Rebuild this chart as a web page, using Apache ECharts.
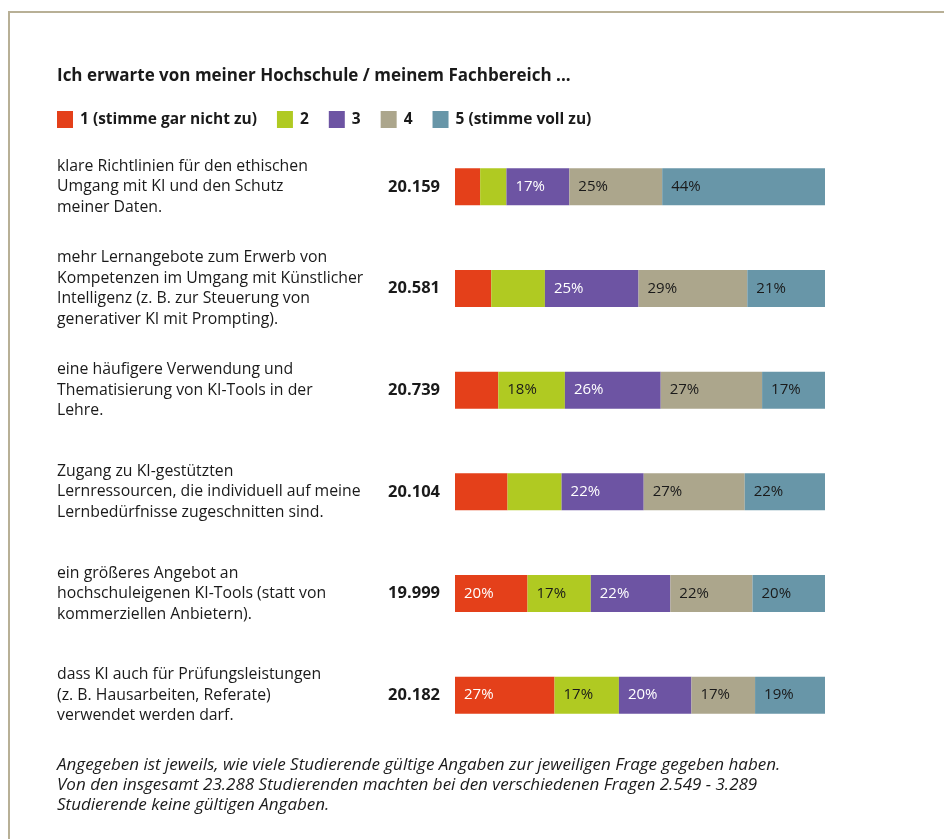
<!DOCTYPE html>
<html>
<head>
<meta charset="utf-8">
<script src="https://cdn.jsdelivr.net/npm/echarts@6/dist/echarts.min.js"></script>
<style>
  html, body { margin: 0; padding: 0; background: #fff; }
  #chart { width: 944px; height: 839px; }
</style>
</head>
<body>
<div id="chart"></div>
<script>
// Fragen (oben nach unten)
const questions = [
  'klare Richtlinien für den ethischen\nUmgang mit KI und den Schutz\nmeiner Daten.',
  'mehr Lernangebote zum Erwerb von\nKompetenzen im Umgang mit Künstlicher\nIntelligenz (z. B. zur Steuerung von\ngenerativer KI mit Prompting).',
  'eine häufigere Verwendung und\nThematisierung von KI-Tools in der\nLehre.',
  'Zugang zu KI-gestützten\nLernressourcen, die individuell auf meine\nLernbedürfnisse zugeschnitten sind.',
  'ein größeres Angebot an\nhochschuleigenen KI-Tools (statt von\nkommerziellen Anbietern).',
  'dass KI auch für Prüfungsleistungen\n(z. B. Hausarbeiten, Referate)\nverwendet werden darf.'
];
const nValues = ['20.159', '20.581', '20.739', '20.104', '19.999', '20.182'];

const seriesNames = ['1 (stimme gar nicht zu)', '2', '3', '4', '5 (stimme voll zu)'];
const colors = ['#e4401a', '#b0ca22', '#6d54a3', '#aca68c', '#6896a8'];
const labelColors = ['#ffffff', '#1a1a1a', '#ffffff', '#1a1a1a', '#1a1a1a'];

// Anteile in %
const stufe1 = [6.8, 9.8, 11.7, 14.2, 19.6, 26.9];
const stufe2 = [7.1, 14.5, 18.0, 14.6, 17.1, 17.4];
const stufe3 = [17.0, 25.3, 25.9, 22.2, 21.5, 19.6];
const stufe4 = [25.1, 29.4, 27.4, 27.3, 22.2, 17.2];
const stufe5 = [44.0, 21.0, 17.0, 21.7, 19.6, 18.9];
const allData = [stufe1, stufe2, stufe3, stufe4, stufe5];

const footnote = 'Angegeben ist jeweils, wie viele Studierende gültige Angaben zur jeweiligen Frage gegeben haben.\n' +
  'Von den insgesamt 23.288 Studierenden machten bei den verschiedenen Fragen 2.549 - 3.289\n' +
  'Studierende keine gültigen Angaben.';

const fontName = 'Open Sans';

let chart = echarts.init(document.getElementById('chart'));

let option = {
  textStyle: {fontFamily: fontName},
  title: {
    text: 'Ich erwarte von meiner Hochschule / meinem Fachbereich ...',
    left: 57,
    top: 68,
    padding: 0,
    textStyle: {fontSize: 17, fontWeight: 'bold', color: '#1a1a1a', fontFamily: fontName}
  },
  legend: {
    left: 57,
    top: 111,
    padding: 0,
    icon: 'rect',
    itemWidth: 16,
    itemHeight: 17,
    itemGap: 20,
    textStyle: {fontSize: 15.5, fontWeight: 'bold', color: '#1a1a1a', padding: [0, 0, 0, 2]},
    data: seriesNames
  },
  grid: {
    left: 455,
    right: 119,
    top: 136,
    height: 610
  },
  xAxis: {
    type: 'value',
    min: 0,
    max: 100,
    show: false
  },
  yAxis: [
    {
      type: 'category',
      inverse: true,
      data: questions,
      axisLine: {show: false},
      axisTick: {show: false},
      axisLabel: {
        align: 'left',
        margin: 398,
        fontSize: 15.8,
        lineHeight: 20.5,
        color: '#1a1a1a'
      }
    },
    {
      type: 'category',
      position: 'left',
      inverse: true,
      data: nValues,
      axisLine: {show: false},
      axisTick: {show: false},
      axisLabel: {
        margin: 15,
        fontSize: 16.5,
        fontWeight: 'bold',
        color: '#1a1a1a'
      }
    }
  ],
  graphic: [
    {
      type: 'rect',
      shape: {x: 9, y: 12, width: 1100, height: 1000},
      style: {fill: 'none', stroke: '#b8b096', lineWidth: 2},
      silent: true
    },
    {
      type: 'text',
      left: 57,
      top: 755,
      style: {
        text: footnote,
        font: 'italic 17px "' + fontName + '"',
        lineHeight: 20,
        fill: '#1a1a1a'
      }
    }
  ],
  series: seriesNames.map(function (name, i) {
    return {
      name: name,
      type: 'bar',
      stack: 'total',
      barWidth: 37,
      data: allData[i],
      itemStyle: {color: colors[i]},
      label: {
        show: true,
        position: 'insideLeft',
        distance: 9,
        fontSize: 15,
        color: labelColors[i],
        formatter: function (p) {
          return p.value >= 15.5 ? Math.round(p.value) + '%' : '';
        }
      }
    };
  })
};

chart.setOption(option);
</script>
</body>
</html>
